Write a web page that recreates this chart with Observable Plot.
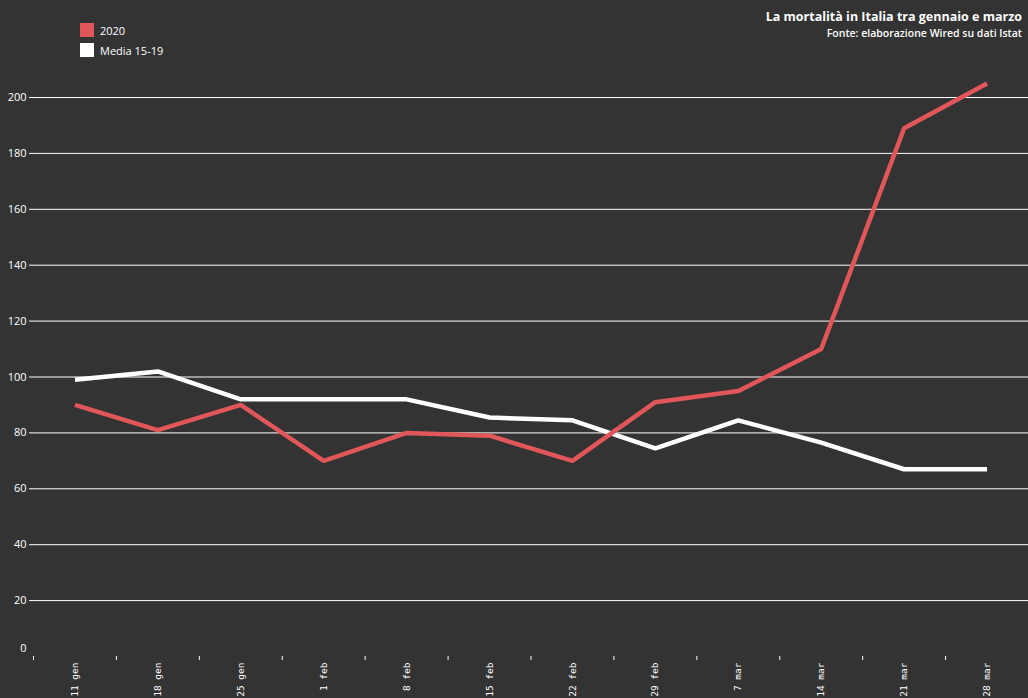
<!DOCTYPE html>
<html>
<head>
<meta charset="utf-8">
<script src="https://cdn.jsdelivr.net/npm/d3@7"></script>
<script src="https://cdn.jsdelivr.net/npm/@observablehq/plot@0.6"></script>
<style>
  html, body { margin: 0; padding: 0; background: #333333; }
  #wrap { position: relative; width: 1028px; height: 698px; background: #333333; overflow: hidden; }
  #title { position: absolute; right: 6px; top: 9px; text-align: right; color: #fff; font-family: "Open Sans", sans-serif; }
  #title .t { font-weight: 700; font-size: 12.5px; line-height: 16px; }
  #title .s { font-weight: 600; font-size: 10.5px; line-height: 16px; }
  #legend { position: absolute; left: 80px; top: 20px; font-family: "Open Sans", sans-serif; font-size: 11px; color: #fff; }
  #legend .row { display: flex; align-items: center; height: 20px; }
  #legend .sw { width: 14px; height: 14px; margin-right: 6px; }
</style>
</head>
<body>
<div id="wrap">
  <div id="chart"></div>
  <div id="legend"></div>
  <div id="title"><div class="t">La mortalità in Italia tra gennaio e marzo</div><div class="s">Fonte: elaborazione Wired su dati Istat</div></div>
</div>
<script>
const weeks = ["11 gen","18 gen","25 gen","1 feb","8 feb","15 feb","22 feb","29 feb","7 mar","14 mar","21 mar","28 mar"];
const values2020 = [90, 81, 90, 70, 80, 79, 70, 91, 95, 110, 189, 205];
const valuesMedia = [99, 102, 92, 92, 92, 85.5, 84.5, 74.5, 84.5, 76.5, 67, 67];
const seriesNames = ["2020", "Media 15-19"];
const seriesColors = ["#e15759", "#ffffff"];
const yTicks = [20, 40, 60, 80, 100, 120, 140, 160, 180, 200];

const rows = [];
weeks.forEach((w, i) => {
  rows.push({i, week: w, value: values2020[i], serie: seriesNames[0]});
  rows.push({i, week: w, value: valuesMedia[i], serie: seriesNames[1]});
});
const idx = d3.range(weeks.length);
const bounds = d3.range(weeks.length + 1).map(i => i - 0.5);

const chart = Plot.plot({
  width: 1028,
  height: 698,
  marginLeft: 33,
  marginRight: 0,
  marginTop: 97,
  marginBottom: 42,
  style: {background: "#333333", color: "#ffffff", overflow: "visible"},
  x: {type: "linear", domain: [-0.5, weeks.length - 0.5], axis: null},
  y: {domain: [0, 200], axis: null},
  color: {domain: seriesNames, range: seriesColors},
  marks: [
    Plot.ruleY(yTicks, {stroke: "#ffffff", strokeWidth: 1, insetLeft: -4}),
    Plot.axisY({ticks: yTicks, tickSize: 0, tickPadding: 7, fontSize: 11, fontFamily: "Open Sans, sans-serif", fill: "#ffffff", label: null}),
    Plot.axisY({ticks: [0], tickSize: 0, tickPadding: 7, dy: -8, fontSize: 11, fontFamily: "Open Sans, sans-serif", fill: "#ffffff", label: null}),
    Plot.axisX({ticks: bounds, tickFormat: () => "", tickSize: 4, stroke: "#ffffff", label: null}),
    Plot.axisX({ticks: idx, tickFormat: i => weeks[i], tickSize: 0, tickPadding: 6, tickRotate: -90, fontSize: 9.5, fontFamily: "DejaVu Sans Mono, monospace", fill: "#ffffff", label: null}),
    Plot.line(rows.filter(d => d.serie === seriesNames[1]), {x: "i", y: "value", stroke: "serie", strokeWidth: 4.5, strokeLinejoin: "miter", strokeLinecap: "butt"}),
    Plot.line(rows.filter(d => d.serie === seriesNames[0]), {x: "i", y: "value", stroke: "serie", strokeWidth: 4.5, strokeLinejoin: "miter", strokeLinecap: "butt"})
  ]
});
document.getElementById("chart").appendChild(chart);

const legend = document.getElementById("legend");
seriesNames.forEach((n, k) => {
  const row = document.createElement("div");
  row.className = "row";
  row.innerHTML = `<div class="sw" style="background:${seriesColors[k]}"></div><span>${n}</span>`;
  legend.appendChild(row);
});
</script>
</body>
</html>
